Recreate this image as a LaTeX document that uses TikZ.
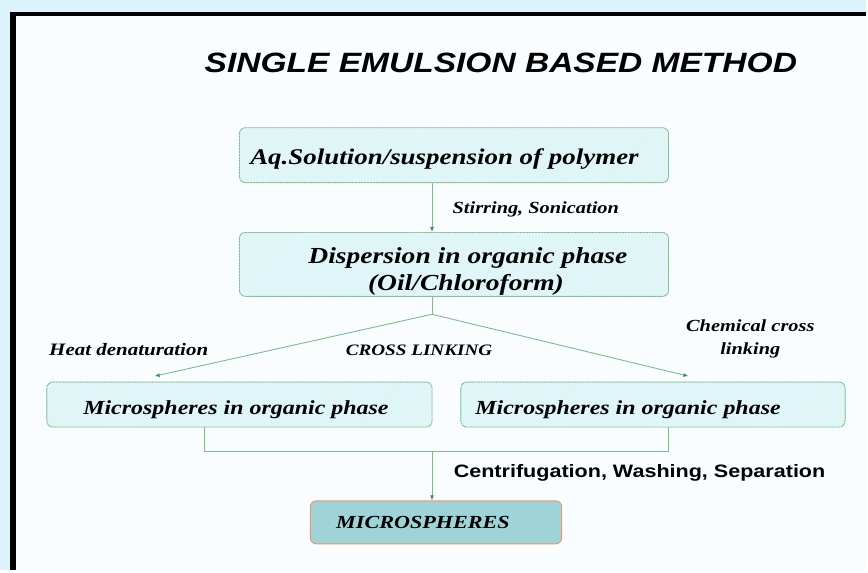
\documentclass[tikz,border=0pt]{standalone}
\usepackage{fontspec}
\setmainfont{Liberation Serif}[FakeStretch=1.2]
\setsansfont{Liberation Sans}[FakeStretch=1.2]
\usepackage{tikz}
\usetikzlibrary{arrows.meta,patterns}

\definecolor{slideblue}{HTML}{DCF3FB}
\definecolor{boxfill}{HTML}{E2F3F5}
\definecolor{boxline}{HTML}{7DBD8A}
\definecolor{arrowgreen}{HTML}{3E8E4A}
\definecolor{endfill}{HTML}{9ED4D8}
\definecolor{endline}{HTML}{E89A6A}

\begin{document}
\begin{tikzpicture}[x=1pt,y=-1pt,
   stepbox/.style={draw=boxline, line width=0.9pt, rounded corners=6pt, fill=boxfill,
      postaction={pattern=north east lines, pattern color=cyan!14},
      font=\fontsize{22.5}{27}\selectfont\bfseries\itshape, inner sep=0pt,
      text height=18pt, text depth=0pt},
   endbox/.style={draw=endline, line width=1pt, rounded corners=6pt, fill=endfill,
      font=\fontsize{18.5}{21}\selectfont\bfseries\itshape, inner sep=0pt,
      text height=11.5pt, text depth=0pt},
   tag/.style={font=\fontsize{17}{23}\selectfont\bfseries\itshape, align=center},
   flow/.style={draw=boxline, line width=0.9pt},
   arr/.style={flow, -{Latex[length=5pt,width=4pt,color=arrowgreen]}}]
   % slide background
   \fill[slideblue] (0,0) rectangle (868,571);
   \fill[white!98!cyan] (13,14) rectangle (868,571);
   \draw[line width=4pt] (10,14) -- (868,14);
   \draw[line width=6pt] (13,12) -- (13,571);

   \node (title) at (502,63) {\sffamily\fontsize{28}{32}\selectfont\bfseries\itshape SINGLE EMULSION BASED METHOD};

   \node[stepbox, minimum width=430pt, minimum height=55pt] (aq) at (455,155.5) {Aq.Solution/suspension of polymer\hspace*{19pt}};
   \node[stepbox, minimum width=430pt, minimum height=64pt, align=center, text height=53pt,
      font=\fontsize{23}{27}\selectfont\bfseries\itshape] (disp) at (455,265) {\hspace*{28pt}Dispersion in organic phase\\\hspace*{24pt}(Oil/Chloroform)};
   \node[stepbox, minimum width=386pt, minimum height=45pt, text height=19pt, font=\fontsize{20}{23}\selectfont\bfseries\itshape] (heat) at (240,405.5) {Microspheres in organic phase\hspace*{7pt}};
   \node[stepbox, minimum width=385pt, minimum height=45pt, text height=19pt, font=\fontsize{20}{23}\selectfont\bfseries\itshape] (chem) at (654.5,405.5) {Microspheres in organic phase\hspace*{50pt}};
   \node[endbox, minimum width=252pt, minimum height=43pt] (micro) at (437,523.5) {MICROSPHERES\hspace*{26pt}};

   \coordinate (split) at (433,315);
   \coordinate (tipl) at (155,377);
   \coordinate (tipr) at (690,377);
   \coordinate (joinl) at (205,452);
   \coordinate (joinr) at (670,452);
   \coordinate (join) at (433,452);

   \draw[arr] (aq.south -| split) -- (disp.north -| split);
   \draw[flow] (disp.south -| split) -- (split);
   \draw[arr] (split) -- (tipl);
   \draw[arr] (split) -- (tipr);
   \draw[flow] (heat.south -| joinl) -- (joinl) -- (joinr) -- (chem.south -| joinr);
   \draw[arr] (join) -- (micro.north -| join);

   \node[tag] (stir) at (537,210) {Stirring, Sonication};
   \node[tag, font=\fontsize{17.5}{23}\selectfont\bfseries\itshape] (hd) at (129,350) {Heat denaturation};
   \node[tag, font=\fontsize{16}{23}\selectfont\bfseries\itshape] (cl) at (420,351) {CROSS LINKING};
   \node[tag] (ccl) at (752,340) {Chemical cross\\linking};
   \node (cws) at (641,474) {\sffamily\fontsize{18}{20}\selectfont\bfseries Centrifugation, Washing, Separation};
\end{tikzpicture}
\end{document}
